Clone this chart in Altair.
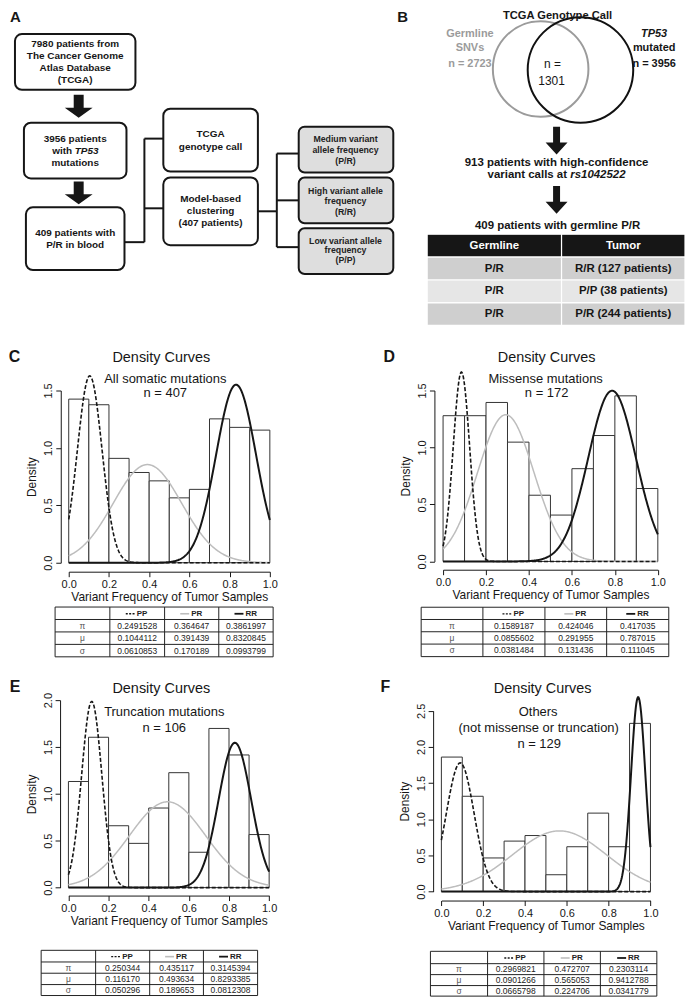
import altair as alt
import pandas as pd

FONT = "Liberation Sans"
INK = "#161616"

# ---------------------------------------------------------------- content
FLOW_TEXT = ["7980 patients from", "The Cancer Genome", "Atlas Database", "(TCGA)",
             "3956 patients", "with", "mutations",
             "409 patients with", "P/R in blood",
             "TCGA", "genotype call",
             "Model-based", "clustering", "(407 patients)"]
FLOW_ITALIC = ["TP53"]
GRAY_TEXT = ["Medium variant", "allele frequency", "(P/R)",
             "High variant allele", "frequency", "(R/R)",
             "Low variant allele", "frequency", "(P/P)"]

VENN_TITLE = ["TCGA Genotype Call"]
VENN_LEFT = ["Germline", "SNVs", "n = 2723"]
VENN_RIGHT = ["mutated", "n = 3956"]
VENN_RIGHT_ITALIC = ["TP53"]
VENN_MID = ["n =", "1301"]
B_STEPS = ["913 patients with high-confidence", "variant calls at", "409 patients with germline P/R"]
B_STEPS_ITALIC = ["rs1042522"]
B_HEADER = ["Germline", "Tumor"]
B_ROWS = [["P/R", "R/R (127 patients)"],
          ["P/R", "P/P (38 patients)"],
          ["P/R", "P/R (244 patients)"]]

BIN_EDGES = [0.0, 0.1, 0.2, 0.3, 0.4, 0.5, 0.6, 0.7, 0.8, 0.9, 1.0]
X_TICKS = [0.0, 0.2, 0.4, 0.6, 0.8, 1.0]
Y_TICKS = {"C": [0.0, 0.5, 1.0, 1.5],
           "D": [0.0, 0.5, 1.0, 1.5],
           "E": [0.0, 0.5, 1.0, 1.5, 2.0],
           "F": [0.0, 0.5, 1.0, 1.5, 2.0, 2.5]}
DENSITY = {"C": [1.425, 1.376, 0.909, 0.786, 0.713, 0.565, 0.639, 1.253, 1.179, 1.155],
           "D": [1.279, 1.279, 1.395, 1.047, 0.581, 0.407, 0.814, 1.105, 1.453, 0.640],
           "E": [1.132, 1.604, 0.660, 0.472, 0.849, 1.226, 0.377, 1.698, 1.415, 0.566],
           "F": [1.860, 1.318, 0.465, 0.698, 0.775, 0.233, 0.620, 1.085, 0.620, 2.326]}
PANEL_TITLE = "Density Curves"
SUBTITLES = {"C": ["All somatic mutations", "n = 407"],
             "D": ["Missense  mutations", "n = 172"],
             "E": ["Truncation mutations", "n = 106"],
             "F": ["Others", "(not missense or truncation)", "n = 129"]}
X_TITLE = "Variant Frequency of Tumor Samples"
Y_TITLE = "Density"
COMPONENTS = ["PP", "PR", "RR"]
PARAM_SYMBOLS = ["\u03c0", "\u03bc", "\u03c3"]
# rows: pi, mu, sigma ; columns: PP, PR, RR
PARAMS = {"C": [["0.2491528", "0.364647", "0.3861997"],
                ["0.1044112", "0.391439", "0.8320845"],
                ["0.0610853", "0.170189", "0.0993799"]],
          "D": [["0.1589187", "0.424046", "0.417035"],
                ["0.0855602", "0.291955", "0.787015"],
                ["0.0381484", "0.131436", "0.111045"]],
          "E": [["0.250344", "0.435117", "0.3145394"],
                ["0.116170", "0.493634", "0.8293385"],
                ["0.050296", "0.189653", "0.0812308"]],
          "F": [["0.2969821", "0.472707", "0.2303114"],
                ["0.0901266", "0.565053", "0.9412788"],
                ["0.0665798", "0.224706", "0.0341779"]]}

# ---------------------------------------------------------------- layout (page px)
A_ORIGIN, B_ORIGIN = (8, 8), (347, 8)
ROW1_H = 322
COL_W = 339
BOXES = [(13, 32, 134, 88), (22, 121, 125, 177), (24, 206, 123, 269),
         (162, 107, 257, 170), (162, 176, 257, 244)]
GRAY_BOXES = [(298, 125, 393, 171), (298, 176, 393, 222), (298, 227, 393, 273)]
CONNECTORS = [(123, 241, 143, 241), (143, 137, 143, 241), (143, 137, 162, 137), (143, 207, 162, 207),
              (257, 210, 276, 210), (276, 152, 276, 246), (276, 152, 298, 152),
              (276, 199, 298, 199), (276, 246, 298, 246)]
FLOW_POS = [(73.5, 42), (73.5, 54), (73.5, 66), (73.5, 78.5),
            (73.5, 137), (60.5, 149), (73.5, 161.5),
            (73.5, 232), (73.5, 244),
            (209.5, 132), (209.5, 145),
            (209.5, 198), (209.5, 210), (209.5, 222)]
FLOW_ITALIC_POS = [(85, 149)]
GRAY_POS = [(345, 137), (345, 148), (345, 159),
            (345, 189.5), (345, 200), (345, 210.5),
            (345, 239.5), (345, 249), (345, 258.5)]
ARROWS_A = [(77, 104.5), (77, 191.5)]
ARROWS_B = [(557, 139), (557, 198.5)]
PATH_A = "M-0.357,-0.82L0.357,-0.82L0.357,0.107L1,0.107L0,0.82L-1,0.107L-0.357,0.107Z"
PATH_B = "M-0.25,-1L0.25,-1L0.25,0.143L0.786,0.143L0,1L-0.786,0.143L-0.25,0.143Z"
CIRCLES = [(541, 67, 48, "#9b9b9b"), (581, 68, 53, "#111111")]
VENN_TITLE_POS = [(558, 14)]
VENN_LEFT_POS = [(470, 32), (470, 46), (470, 62)]
VENN_RIGHT_POS = [(655, 46), (655, 62)]
VENN_RIGHT_ITALIC_POS = [(655, 32)]
VENN_MID_POS = [(553, 62), (552, 79)]
B_STEPS_POS = [(557, 162), (527.6, 173.5), (558, 225)]
B_STEPS_ITALIC_POS = [(598.5, 173.5)]
B_COLS = [427, 562, 686]
B_ROW_EDGES = [233, 256, 279, 302, 324.5]
B_FILLS = ["#161616", "#cfcfcf", "#e6e6e6", "#cfcfcf"]
LETTER_A = (8, 8)
LETTER_B = (397, 8)

PANELS = {
    "C": dict(origin=(8, 330), size=(339, 332), letter=(12.5, 356), title=(160, 357),
              sub=[(164, 378), (164, 393)], x_px=(67, 269), y_px=(563, 390), y_axis=59, x_axis=572,
              cols=[53.3, 108.3, 163.3, 217.7, 272.3], rows=[607.5, 620, 632.5, 645, 657.5]),
    "D": dict(origin=(347, 330), size=(339, 332), letter=(389, 356), title=(547, 357),
              sub=[(546, 378), (547, 393)], x_px=(443, 658.7), y_px=(561.7, 390), y_axis=434.3, x_axis=570,
              cols=[421, 483, 545.3, 607.3, 669.7], rows=[607.7, 620, 632.3, 644.7, 657.3]),
    "E": dict(origin=(8, 662), size=(339, 338), letter=(13, 688), title=(160, 690),
              sub=[(163, 713), (163, 729)], x_px=(66.7, 268.3), y_px=(889.3, 701), y_axis=58.3, x_axis=897.3,
              cols=[39.3, 94, 148.3, 202.3, 256.7], rows=[952.3, 964, 975.3, 986.7, 997.7]),
    "F": dict(origin=(347, 662), size=(339, 338), letter=(385, 688), title=(543, 690),
              sub=[(538.5, 713), (539, 729), (539.5, 745)], x_px=(441.3, 651.3), y_px=(893.3, 711.7),
              y_axis=433, x_axis=902.3,
              cols=[430.3, 487.7, 544.3, 601, 657.7], rows=[953.3, 965.7, 976.7, 987.7, 998.3]),
}
CURVE_STYLE = {"PP": dict(color=INK, strokeDash=[4, 2], strokeWidth=1.6),
               "PR": dict(color="#bdbdbd", strokeWidth=1.5),
               "RR": dict(color=INK, strokeWidth=2)}
SAMPLE_STYLE = {"PP": dict(color=INK, strokeDash=[2, 1.4], strokeWidth=1.3),
                "PR": dict(color="#bdbdbd", strokeWidth=1.6),
                "RR": dict(color=INK, strokeWidth=1.8)}


# ---------------------------------------------------------------- helpers
def XY(xf="tx", yf="ty"):
    return dict(x=alt.X(f"{xf}:Q", scale=None, axis=None), y=alt.Y(f"{yf}:Q", scale=None, axis=None))


def text_layer(labels, positions, origin, size, weight="normal", style="normal",
               color=INK, align="center", baseline="middle"):
    ox, oy = origin
    df = pd.DataFrame({"label": labels,
                       "tx": [p[0] - ox for p in positions],
                       "ty": [p[1] - oy for p in positions]})
    return alt.Chart(df).mark_text(font=FONT, fontSize=size, fontWeight=weight, fontStyle=style,
                                   color=color, align=align, baseline=baseline).encode(
        text="label:N", **XY())


def rect_layer(boxes, origin, fills=None, **style):
    ox, oy = origin
    df = pd.DataFrame({"x": [b[0] - ox for b in boxes], "x2": [b[2] - ox for b in boxes],
                       "y": [b[1] - oy for b in boxes], "y2": [b[3] - oy for b in boxes]})
    enc = dict(x2="x2:Q", y2="y2:Q", **XY("x", "y"))
    if fills is not None:
        df["f"] = fills
        enc["fill"] = alt.Fill("f:N", scale=None)
    return alt.Chart(df).mark_rect(**style).encode(**enc)


def rule_layer(segs, origin, **style):
    ox, oy = origin
    df = pd.DataFrame({"x": [s[0] - ox for s in segs], "y": [s[1] - oy for s in segs],
                       "x2": [s[2] - ox for s in segs], "y2": [s[3] - oy for s in segs]})
    return alt.Chart(df).mark_rule(**style).encode(x2="x2:Q", y2="y2:Q", **XY("x", "y"))


def arrow_layer(centers, origin, shape):
    ox, oy = origin
    df = pd.DataFrame({"tx": [c[0] - ox for c in centers], "ty": [c[1] - oy for c in centers]})
    return alt.Chart(df).mark_point(shape=shape, size=784, filled=True, color=INK,
                                    opacity=1, strokeWidth=0).encode(**XY())


# ---------------------------------------------------------------- panel A
oA = A_ORIGIN
panel_a = alt.layer(
    rule_layer(CONNECTORS, oA, color=INK, strokeWidth=2),
    rect_layer(BOXES, oA, fill="white", stroke=INK, strokeWidth=2, cornerRadius=7),
    rect_layer(GRAY_BOXES, oA, fill="#dedede", stroke=INK, strokeWidth=2, cornerRadius=6),
    arrow_layer(ARROWS_A, oA, PATH_A),
    text_layer(FLOW_TEXT, FLOW_POS, oA, 10, weight="bold"),
    text_layer(FLOW_ITALIC, FLOW_ITALIC_POS, oA, 10, weight="bold", style="italic"),
    text_layer(GRAY_TEXT, GRAY_POS, oA, 8.8, weight="bold", color="#222222"),
    text_layer(["A"], [LETTER_A], oA, 15, weight="bold", align="left", baseline="top"),
).properties(width=COL_W, height=ROW1_H)

# ---------------------------------------------------------------- panel B
oB = B_ORIGIN
circ_df = pd.DataFrame({"tx": [c[0] - oB[0] for c in CIRCLES], "ty": [c[1] - oB[1] for c in CIRCLES],
                        "s": [(2 * c[2]) ** 2 for c in CIRCLES], "col": [c[3] for c in CIRCLES]})
circles = alt.Chart(circ_df).mark_point(shape="circle", filled=False, opacity=1, strokeWidth=2).encode(
    size=alt.Size("s:Q", scale=None), color=alt.Color("col:N", scale=None), **XY())

b_cells, b_fill = [], []
for r in range(4):
    for c in range(2):
        b_cells.append((B_COLS[c], B_ROW_EDGES[r], B_COLS[c + 1], B_ROW_EDGES[r + 1]))
        b_fill.append(B_FILLS[r])
b_hdr_pos = [((B_COLS[c] + B_COLS[c + 1]) / 2, (B_ROW_EDGES[0] + B_ROW_EDGES[1]) / 2) for c in range(2)]
b_row_lab, b_row_pos = [], []
for r, row in enumerate(B_ROWS):
    for c, v in enumerate(row):
        b_row_lab.append(v)
        b_row_pos.append(((B_COLS[c] + B_COLS[c + 1]) / 2, (B_ROW_EDGES[r + 1] + B_ROW_EDGES[r + 2]) / 2))

panel_b = alt.layer(
    arrow_layer(ARROWS_B, oB, PATH_B),
    circles,
    text_layer(VENN_TITLE, VENN_TITLE_POS, oB, 11.2, weight="bold"),
    text_layer(VENN_LEFT, VENN_LEFT_POS, oB, 11, weight="bold", color="#9b9b9b"),
    text_layer(VENN_RIGHT, VENN_RIGHT_POS, oB, 11, weight="bold"),
    text_layer(VENN_RIGHT_ITALIC, VENN_RIGHT_ITALIC_POS, oB, 11, weight="bold", style="italic"),
    text_layer(VENN_MID, VENN_MID_POS, oB, 12),
    text_layer(B_STEPS, B_STEPS_POS, oB, 11.5, weight="bold"),
    text_layer(B_STEPS_ITALIC, B_STEPS_ITALIC_POS, oB, 11.5, weight="bold", style="italic"),
    rect_layer(b_cells, oB, fills=b_fill, stroke="white", strokeWidth=1.2),
    text_layer(B_HEADER, b_hdr_pos, oB, 11.5, weight="bold", color="white"),
    text_layer(b_row_lab, b_row_pos, oB, 11.5, weight="bold"),
    text_layer(["B"], [LETTER_B], oB, 15, weight="bold", align="left", baseline="top"),
).properties(width=COL_W, height=ROW1_H)


# ---------------------------------------------------------------- histogram panels
def panel(key):
    L = PANELS[key]
    o = L["origin"]
    ox, oy = o
    W, H = L["size"]
    xsc = alt.Scale(domain=[0, 1], range=[L["x_px"][0] - ox, L["x_px"][1] - ox], nice=False, zero=False)
    ysc = alt.Scale(domain=[0, Y_TICKS[key][-1]], range=[L["y_px"][0] - oy, L["y_px"][1] - oy],
                    nice=False, zero=False)

    hist = pd.DataFrame({"lo": BIN_EDGES[:-1], "hi": BIN_EDGES[1:], "dens": DENSITY[key],
                         "base": [0.0] * len(DENSITY[key])})
    bars = alt.Chart(hist).mark_rect(fill="white", stroke="#333333", strokeWidth=1).encode(
        x=alt.X("lo:Q", scale=xsc,
                axis=alt.Axis(values=X_TICKS, format=".1f", title=X_TITLE, orient="bottom",
                              offset=(L["x_axis"] - oy) - H, labelFlush=False, labelOverlap=False,
                              titlePadding=2)),
        x2="hi:Q",
        y=alt.Y("dens:Q", scale=ysc,
                axis=alt.Axis(values=Y_TICKS[key], format=".1f", title=Y_TITLE, orient="left",
                              offset=-(L["y_axis"] - ox), labelAngle=270, labelAlign="center",
                              labelBaseline="bottom", labelFlush=False, labelOverlap=False,
                              titlePadding=4)),
        y2="base:Q",
    )

    comp = pd.DataFrame({"comp": COMPONENTS,
                         "pi": [float(v) for v in PARAMS[key][0]],
                         "mu": [float(v) for v in PARAMS[key][1]],
                         "sigma": [float(v) for v in PARAMS[key][2]]})
    base = (alt.Chart(comp)
            .transform_calculate(xs="sequence(0, 1.0001, 0.0025)")
            .transform_flatten(["xs"])
            .transform_calculate(dens="datum.pi / (datum.sigma * sqrt(2 * PI)) * "
                                      "exp(-pow(datum.xs - datum.mu, 2) / (2 * datum.sigma * datum.sigma))"))
    curves = []
    for c in ["PR", "PP", "RR"]:
        curves.append(base.transform_filter(f"datum.comp == '{c}'")
                      .mark_line(**CURVE_STYLE[c])
                      .encode(x=alt.X("xs:Q", scale=xsc, axis=None),
                              y=alt.Y("dens:Q", scale=ysc, axis=None)))

    cols, rows = L["cols"], L["rows"]
    grid = ([(cols[0], r, cols[-1], r) for r in rows] +
            [(c, rows[0], c, rows[-1]) for c in cols])
    hdr_y = (rows[0] + rows[1]) / 2 + 0.5
    col_c = [(cols[i] + cols[i + 1]) / 2 for i in range(4)]
    row_c = [(rows[i] + rows[i + 1]) / 2 for i in range(4)]
    samples = []
    for i, c in enumerate(COMPONENTS):
        cc = col_c[i + 1]
        samples.append(rule_layer([(cc - 11.5, hdr_y, cc - 2.5, hdr_y)], o, **SAMPLE_STYLE[c]))
    hdr_pos = [(col_c[i + 1] - 0.5, hdr_y) for i in range(3)]
    val_lab, val_pos = [], []
    for r in range(3):
        for c in range(3):
            val_lab.append(PARAMS[key][r][c])
            val_pos.append((col_c[c + 1], row_c[r + 1]))
    sym_pos = [(col_c[0], row_c[r + 1]) for r in range(3)]

    layers = [bars] + curves + [
        text_layer([key], [L["letter"]], o, 16, weight="bold"),
        text_layer([PANEL_TITLE], [L["title"]], o, 14.5),
        text_layer(SUBTITLES[key], L["sub"], o, 13),
        rule_layer(grid, o, color="#222222", strokeWidth=1),
    ] + samples + [
        text_layer(COMPONENTS, hdr_pos, o, 8, weight="bold", color="#222222", align="left"),
        text_layer(PARAM_SYMBOLS, sym_pos, o, 8.5, color="#555555"),
        text_layer(val_lab, val_pos, o, 8.5, color="#222222"),
    ]
    return (alt.layer(*layers).properties(width=W, height=H)
            .resolve_scale(x="independent", y="independent"))


chart = (alt.concat(panel_a, panel_b, panel("C"), panel("D"), panel("E"), panel("F"),
                    columns=2, spacing=0, bounds="flush")
         .properties(padding=0)
         .configure(font=FONT)
         .configure_view(stroke=None)
         .configure_axis(domainColor=INK, tickColor=INK, labelColor=INK, titleColor=INK,
                         labelFont=FONT, titleFont=FONT, labelFontSize=11, titleFontSize=12,
                         titleFontWeight="normal", tickSize=5, labelPadding=2, grid=False,
                         domainWidth=1, tickWidth=1))

chart.save("out.html", embed_options={"renderer": "svg", "actions": False})
